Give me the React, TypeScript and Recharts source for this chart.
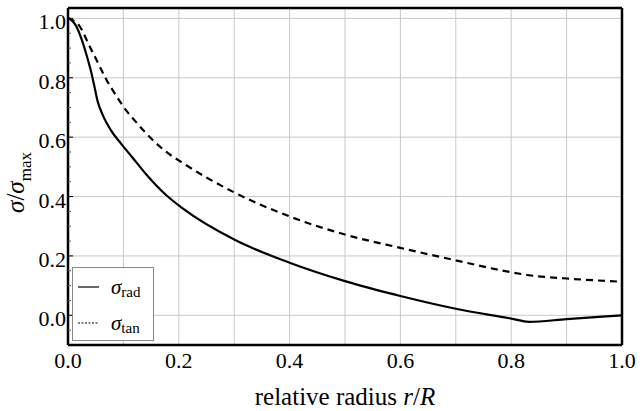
import React from "react";
import {
  LineChart,
  Line,
  XAxis,
  YAxis,
  ReferenceLine,
  Legend,
} from "recharts";

// relative radius r/R vs normalised stress
const radData = [
  { r: 0.0, v: 1.0 },
  { r: 0.0036, v: 0.998 },
  { r: 0.0144, v: 0.975 },
  { r: 0.0265, v: 0.919 },
  { r: 0.0355, v: 0.863 },
  { r: 0.0415, v: 0.822 },
  { r: 0.0475, v: 0.772 },
  { r: 0.0536, v: 0.72 },
  { r: 0.0626, v: 0.675 },
  { r: 0.0776, v: 0.623 },
  { r: 0.0957, v: 0.578 },
  { r: 0.117, v: 0.53 },
  { r: 0.141, v: 0.475 },
  { r: 0.177, v: 0.405 },
  { r: 0.207, v: 0.36 },
  { r: 0.3, v: 0.255 },
  { r: 0.4, v: 0.177 },
  { r: 0.5, v: 0.115 },
  { r: 0.6, v: 0.065 },
  { r: 0.7, v: 0.022 },
  { r: 0.8, v: -0.011 },
  { r: 0.832, v: -0.022 },
  { r: 0.9, v: -0.013 },
  { r: 1.0, v: 0.0 },
];

const tanData = [
  { r: 0.0, v: 1.0 },
  { r: 0.0205, v: 0.975 },
  { r: 0.0385, v: 0.908 },
  { r: 0.0536, v: 0.852 },
  { r: 0.0686, v: 0.796 },
  { r: 0.0866, v: 0.741 },
  { r: 0.105, v: 0.69 },
  { r: 0.12, v: 0.657 },
  { r: 0.141, v: 0.613 },
  { r: 0.177, v: 0.551 },
  { r: 0.208, v: 0.512 },
  { r: 0.3, v: 0.414 },
  { r: 0.4, v: 0.333 },
  { r: 0.5, v: 0.272 },
  { r: 0.6, v: 0.227 },
  { r: 0.7, v: 0.185 },
  { r: 0.8, v: 0.145 },
  { r: 0.832, v: 0.135 },
  { r: 0.9, v: 0.124 },
  { r: 1.0, v: 0.113 },
];

const xTicks = [0, 0.2, 0.4, 0.6, 0.8, 1.0];
const yTicks = [0, 0.2, 0.4, 0.6, 0.8, 1.0];
const xGrid = [0.1, 0.2, 0.3, 0.4, 0.5, 0.6, 0.7, 0.8, 0.9];
const yGrid = [0, 0.2, 0.4, 0.6, 0.8, 1.0];
const xMinor = [
  0.05, 0.1, 0.15, 0.2, 0.25, 0.3, 0.35, 0.4, 0.45, 0.5, 0.55, 0.6, 0.65, 0.7,
  0.75, 0.8, 0.85, 0.9, 0.95,
];
const yMinor = [
  -0.05, 0, 0.05, 0.1, 0.15, 0.2, 0.25, 0.3, 0.35, 0.4, 0.45, 0.5, 0.55, 0.6,
  0.65, 0.7, 0.75, 0.8, 0.85, 0.9, 0.95, 1.0,
];

const FONT = "Liberation Serif, Tinos, DejaVu Serif, serif";
const xDomain = [0, 1];
const yDomain = [-0.1, 1.035];
const frame = { stroke: "#000", strokeWidth: 2.5 };
const Y_MARGIN = 2;

// left axis tick: inward tick mark + label on the major values
const LeftTick = ({ x, y, payload }: any) => {
  const v = payload.value;
  const major = yTicks.some((t) => Math.abs(t - v) < 1e-9);
  const ax = x + Y_MARGIN;
  return (
    <g>
      <line
        x1={ax}
        x2={ax + (major ? 5 : 3)}
        y1={y}
        y2={y}
        stroke={major ? "#000" : "#555"}
      />
      {major && (
        <text
          x={x}
          y={y}
          dy={11}
          textAnchor="end"
          fontFamily={FONT}
          fontSize={22}
          fill="#000"
        >
          {v.toFixed(1)}
        </text>
      )}
    </g>
  );
};

const YLabel = ({ viewBox }: any) => {
  const cy = viewBox.y + viewBox.height / 2 + 6;
  return (
    <text
      transform={`translate(24, ${cy}) rotate(-90)`}
      textAnchor="middle"
      fontFamily={FONT}
      fontSize={25}
      fill="#000"
    >
      <tspan fontStyle="italic">σ</tspan>
      <tspan>/</tspan>
      <tspan fontStyle="italic">σ</tspan>
      <tspan fontSize={17} dy={7}>max</tspan>
    </text>
  );
};

const XLabel = ({ viewBox }: any) => {
  const cx = viewBox.x + viewBox.width / 2;
  return (
    <text
      x={cx}
      y={405}
      textAnchor="middle"
      fontFamily={FONT}
      fontSize={25}
      fill="#000"
    >
      <tspan>relative radius </tspan>
      <tspan fontStyle="italic">r</tspan>
      <tspan>/</tspan>
      <tspan fontStyle="italic">R</tspan>
    </text>
  );
};

const legendItems = [
  { name: "rad", dash: undefined },
  { name: "tan", dash: "2 1.5" },
];

const LegendBox = () => (
  <div
    style={{
      border: "1px solid #888",
      background: "#fff",
      width: 82,
      height: 74,
      boxSizing: "border-box",
      fontFamily: FONT,
      paddingTop: 1,
    }}
  >
    {legendItems.map((item) => (
      <div
        key={item.name}
        style={{ display: "flex", alignItems: "center", height: 36 }}
      >
        <svg width={34} height={10}>
          <line
            x1={5}
            x2={26}
            y1={5}
            y2={5}
            stroke="#000"
            strokeWidth={1.2}
            strokeDasharray={item.dash}
          />
        </svg>
        <span style={{ fontSize: 21, fontStyle: "italic", marginLeft: 4 }}>
          σ
        </span>
        <span style={{ fontSize: 15, position: "relative", top: 5 }}>
          {item.name}
        </span>
      </div>
    ))}
  </div>
);

export default function App() {
  return (
    <div style={{ position: "absolute", left: 0, top: 0, background: "#fff" }}>
      <LineChart
        width={640}
        height={411}
        margin={{ top: 8, right: 18, bottom: 0, left: 0 }}
      >
        <XAxis
          dataKey="r"
          type="number"
          domain={xDomain}
          ticks={xTicks}
          height={66}
          axisLine={frame}
          tickLine={false}
          tickSize={0}
          tickMargin={7}
          tick={{ fill: "#000", fontSize: 22, fontFamily: FONT }}
          tickFormatter={(v: number) => v.toFixed(1)}
          label={<XLabel />}
          allowDataOverflow
        />
        <YAxis
          dataKey="v"
          type="number"
          domain={yDomain}
          ticks={yMinor}
          interval={0}
          width={68}
          axisLine={frame}
          tickLine={false}
          tickSize={0}
          tickMargin={Y_MARGIN}
          tick={<LeftTick />}
          label={<YLabel />}
          allowDataOverflow
        />
        {/* frame + inward ticks */}
        <XAxis xAxisId="top" orientation="top" mirror type="number" domain={xDomain} ticks={xMinor} tick={false} tickSize={3} axisLine={frame} tickLine={{ stroke: "#555" }} allowDataOverflow />
        <XAxis xAxisId="topMajor" orientation="top" mirror type="number" domain={xDomain} ticks={xTicks} tick={false} tickSize={5} axisLine={false} tickLine={{ stroke: "#000" }} allowDataOverflow />
        <XAxis xAxisId="bottomMinor" orientation="bottom" mirror type="number" domain={xDomain} ticks={xMinor} tick={false} tickSize={3} axisLine={false} tickLine={{ stroke: "#555" }} allowDataOverflow />
        <XAxis xAxisId="bottomMajor" orientation="bottom" mirror type="number" domain={xDomain} ticks={xTicks} tick={false} tickSize={5} axisLine={false} tickLine={{ stroke: "#000" }} allowDataOverflow />
        <YAxis yAxisId="right" orientation="right" mirror type="number" domain={yDomain} ticks={yMinor} tick={false} tickSize={3} axisLine={frame} tickLine={{ stroke: "#555" }} allowDataOverflow />
        <YAxis yAxisId="rightMajor" orientation="right" mirror type="number" domain={yDomain} ticks={yTicks} tick={false} tickSize={5} axisLine={false} tickLine={{ stroke: "#000" }} allowDataOverflow />

        {xGrid.map((x) => (
          <ReferenceLine key={`gx${x}`} x={x} stroke="#c8c8c8" strokeWidth={1} />
        ))}
        {yGrid.map((y) => (
          <ReferenceLine key={`gy${y}`} y={y} stroke="#c8c8c8" strokeWidth={1} />
        ))}

        <Line
          data={tanData}
          dataKey="v"
          type="monotone"
          stroke="#000"
          strokeWidth={2.2}
          strokeDasharray="7 5"
          dot={false}
          isAnimationActive={false}
        />
        <Line
          data={radData}
          dataKey="v"
          type="monotone"
          stroke="#000"
          strokeWidth={2.2}
          dot={false}
          isAnimationActive={false}
        />
        <Legend
          layout="vertical"
          align="center"
          verticalAlign="middle"
          content={<LegendBox />}
          wrapperStyle={{ left: 72, top: 267, width: 82, height: 74 }}
        />
      </LineChart>
    </div>
  );
}
